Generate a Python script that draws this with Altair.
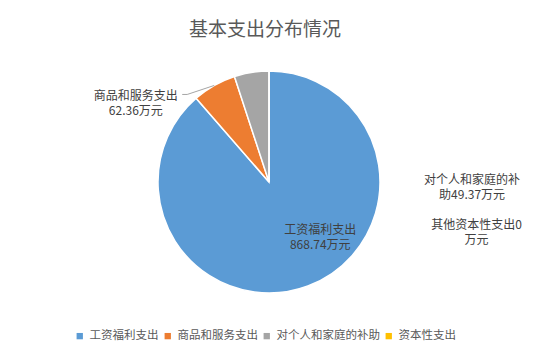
import altair as alt
import pandas as pd

FONT = "Noto Sans CJK SC"

categories = ["工资福利支出", "商品和服务支出", "对个人和家庭的补助", "资本性支出"]
label_names = ["工资福利支出", "商品和服务支出", "对个人和家庭的补助", "其他资本性支出"]
values = [868.74, 62.36, 49.37, 0]
colors = ["#5B9BD5", "#ED7D31", "#A5A5A5", "#FFC000"]
unit = "万元"


def make_label(i):
    full = f"{label_names[i]}{values[i]:g}{unit}"
    if i < 2:
        return f"{label_names[i]}\n{values[i]:g}{unit}"
    return full[:8] + "\n" + full[8:]


df = pd.DataFrame({
    "category": categories,
    "value": values,
    "order": list(range(len(categories))),
    "label": [make_label(i) for i in range(len(categories))],
})

W, H = 522, 238
CX, CY = W / 2, H / 2
R = 111

base = alt.Chart(df).encode(
    theta=alt.Theta("value:Q", stack=True),
    order=alt.Order("order:Q", sort="ascending"),
)

arc = base.mark_arc(outerRadius=R, stroke="white", strokeWidth=1.5).encode(
    color=alt.Color(
        "category:N",
        scale=alt.Scale(domain=categories, range=colors),
        sort=categories,
        legend=alt.Legend(
            title=None,
            orient="none",
            legendX=66,
            legendY=267,
            direction="horizontal",
            symbolType="square",
            symbolSize=40,
            symbolStrokeWidth=0,
            labelFontSize=11.5,
            labelColor="#595959",
            labelFont=FONT,
            columnPadding=3,
            labelOffset=4,
        ),
    )
)


def label_layer(i, radius, dx, dy):
    return base.transform_calculate(
        lbl=f"datum.order == {i} ? datum.label : ''"
    ).mark_text(
        radius=radius, dx=dx, dy=dy, fontSize=12, lineBreak="\n",
        lineHeight=15, color="#404040", font=FONT, align="center", baseline="middle",
    ).encode(text="lbl:N")


labels = [
    label_layer(0, 55, 32, -3.5),
    label_layer(1, 130, -69, 27),
    label_layer(2, 120, 222, 116.5),
    label_layer(3, 120, 207.5, 163),
]

# leader line for the 商品和服务支出 slice, computed from the slice mid angle
leader_base = alt.Chart(df).transform_joinaggregate(
    total="sum(value)"
).transform_window(
    cum="sum(value)", sort=[alt.SortField("order")], frame=[None, 0]
).transform_calculate(
    mid="(datum.cum - datum.value / 2) / datum.total * 2 * PI"
).transform_calculate(
    ex=f"{CX} + {R} * sin(datum.mid)",
    ey=f"{CY} - {R} * cos(datum.mid)",
).transform_calculate(
    bx="datum.ex - 27",
    by="datum.ey + 9",
).transform_calculate(
    tx="datum.bx - 5",
).transform_filter(alt.datum.order == 1)

leader1 = leader_base.mark_rule(color="#A6A6A6", strokeWidth=1).encode(
    x=alt.X("ex:Q", scale=None, axis=None),
    y=alt.Y("ey:Q", scale=None, axis=None),
    x2="bx:Q",
    y2="by:Q",
)
leader2 = leader_base.mark_rule(color="#A6A6A6", strokeWidth=1).encode(
    x=alt.X("bx:Q", scale=None, axis=None),
    y=alt.Y("by:Q", scale=None, axis=None),
    x2="tx:Q",
    y2="by:Q",
)

chart = alt.layer(arc, leader1, leader2, *labels).properties(
    width=W,
    height=H,
    autosize="none",
    padding={"top": 55, "left": 0, "right": 0, "bottom": 50},
    background="white",
    title=alt.TitleParams(
        "基本支出分布情况", fontSize=19, fontWeight="normal", color="#595959",
        font=FONT, offset=23, anchor="middle", dx=-4,
    ),
).configure_view(stroke=None)

chart.save("out.html", embed_options={"renderer": "svg", "actions": False})
